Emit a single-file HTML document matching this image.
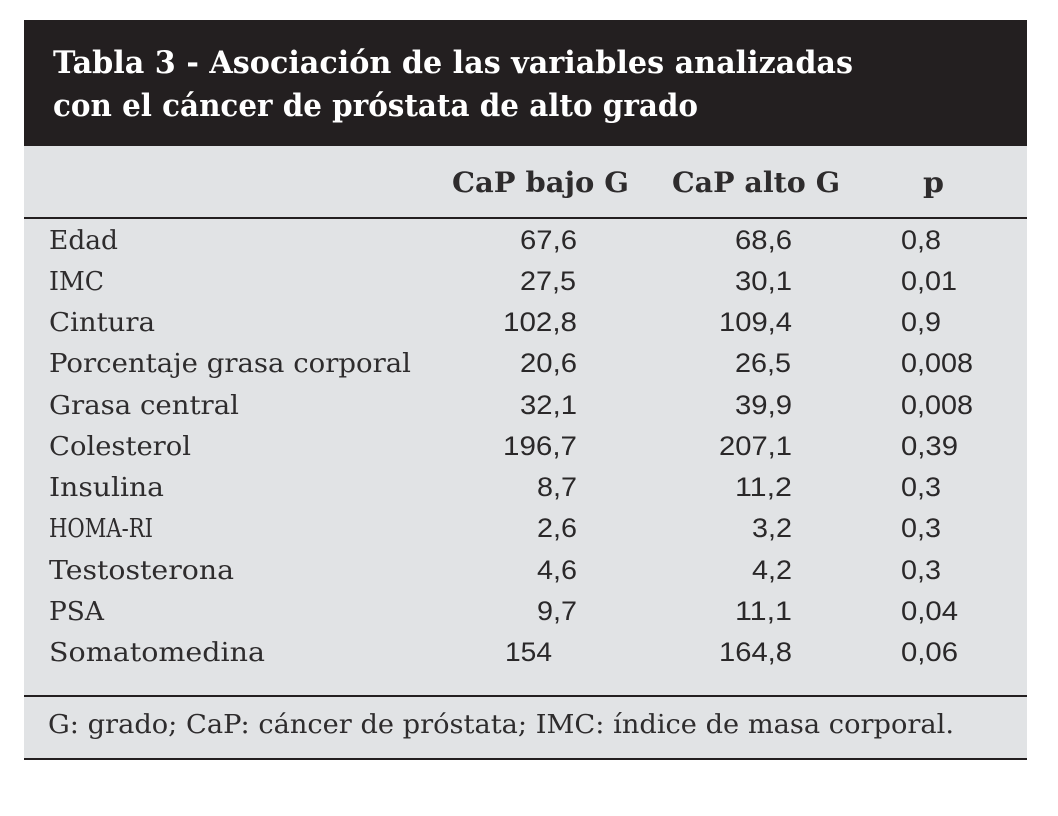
<!DOCTYPE html>
<html lang="es">
<head>
<meta charset="utf-8">
<title>Tabla 3</title>
<style>
html,body{margin:0;padding:0;background:#fff;width:1058px;height:816px;overflow:hidden}
svg{display:block}
text{font-family:"DejaVu Serif",serif;font-size:26px;fill:#2e2c2d}
.t{font-weight:bold;font-size:31px;fill:#fff}
.h{font-weight:bold;font-size:28px;fill:#2e2c2d}
.n{font-family:"Liberation Sans",sans-serif;font-size:26.5px;fill:#2a2829}
</style>
</head>
<body>
<svg xmlns="http://www.w3.org/2000/svg" width="1058" height="816" viewBox="0 0 1058 816">
<rect x="24" y="146" width="1003" height="613" fill="#e1e3e5"/>
<rect x="24" y="20" width="1003" height="126" fill="#231f20"/>
<rect x="24" y="217" width="1003" height="2" fill="#231f20"/>
<rect x="24" y="695" width="1003" height="2" fill="#231f20"/>
<rect x="24" y="758" width="1003" height="2" fill="#231f20"/>

<g transform="translate(0,-1)">
<text class="t" x="53" y="74" textLength="800" lengthAdjust="spacingAndGlyphs">Tabla 3 - Asociación de las variables analizadas</text>
<text class="t" x="53" y="117" textLength="645" lengthAdjust="spacingAndGlyphs">con el cáncer de próstata de alto grado</text>

<text class="h" x="452" y="193" textLength="177" lengthAdjust="spacingAndGlyphs">CaP bajo G</text>
<text class="h" x="672" y="193" textLength="168" lengthAdjust="spacingAndGlyphs">CaP alto G</text>
<text class="h" x="923" y="193" textLength="21" lengthAdjust="spacingAndGlyphs">p</text>

<text x="49" y="250" textLength="69" lengthAdjust="spacingAndGlyphs">Edad</text>
<text class="n" x="520" y="250" textLength="57" lengthAdjust="spacingAndGlyphs">67,6</text>
<text class="n" x="735" y="250" textLength="57" lengthAdjust="spacingAndGlyphs">68,6</text>
<text class="n" x="901" y="250" textLength="40" lengthAdjust="spacingAndGlyphs">0,8</text>

<text x="49" y="291" textLength="55" lengthAdjust="spacingAndGlyphs">IMC</text>
<text class="n" x="520" y="291" textLength="56" lengthAdjust="spacingAndGlyphs">27,5</text>
<text class="n" x="735" y="291" textLength="57" lengthAdjust="spacingAndGlyphs">30,1</text>
<text class="n" x="901" y="291" textLength="56" lengthAdjust="spacingAndGlyphs">0,01</text>

<text x="49" y="332" textLength="106" lengthAdjust="spacingAndGlyphs">Cintura</text>
<text class="n" x="503" y="332" textLength="74" lengthAdjust="spacingAndGlyphs">102,8</text>
<text class="n" x="719" y="332" textLength="73" lengthAdjust="spacingAndGlyphs">109,4</text>
<text class="n" x="901" y="332" textLength="40" lengthAdjust="spacingAndGlyphs">0,9</text>

<text x="49" y="373" textLength="362" lengthAdjust="spacingAndGlyphs">Porcentaje grasa corporal</text>
<text class="n" x="520" y="373" textLength="57" lengthAdjust="spacingAndGlyphs">20,6</text>
<text class="n" x="735" y="373" textLength="56" lengthAdjust="spacingAndGlyphs">26,5</text>
<text class="n" x="901" y="373" textLength="72" lengthAdjust="spacingAndGlyphs">0,008</text>

<text x="49" y="415" textLength="190" lengthAdjust="spacingAndGlyphs">Grasa central</text>
<text class="n" x="520" y="415" textLength="57" lengthAdjust="spacingAndGlyphs">32,1</text>
<text class="n" x="735" y="415" textLength="57" lengthAdjust="spacingAndGlyphs">39,9</text>
<text class="n" x="901" y="415" textLength="72" lengthAdjust="spacingAndGlyphs">0,008</text>

<text x="49" y="456" textLength="142" lengthAdjust="spacingAndGlyphs">Colesterol</text>
<text class="n" x="503" y="456" textLength="74" lengthAdjust="spacingAndGlyphs">196,7</text>
<text class="n" x="719" y="456" textLength="73" lengthAdjust="spacingAndGlyphs">207,1</text>
<text class="n" x="901" y="456" textLength="57" lengthAdjust="spacingAndGlyphs">0,39</text>

<text x="49" y="497" textLength="115" lengthAdjust="spacingAndGlyphs">Insulina</text>
<text class="n" x="537" y="497" textLength="40" lengthAdjust="spacingAndGlyphs">8,7</text>
<text class="n" x="735" y="497" textLength="57" lengthAdjust="spacingAndGlyphs">11,2</text>
<text class="n" x="901" y="497" textLength="40" lengthAdjust="spacingAndGlyphs">0,3</text>

<text x="49" y="538" textLength="104" lengthAdjust="spacingAndGlyphs">HOMA-RI</text>
<text class="n" x="537" y="538" textLength="40" lengthAdjust="spacingAndGlyphs">2,6</text>
<text class="n" x="752" y="538" textLength="40" lengthAdjust="spacingAndGlyphs">3,2</text>
<text class="n" x="901" y="538" textLength="40" lengthAdjust="spacingAndGlyphs">0,3</text>

<text x="49" y="580" textLength="185" lengthAdjust="spacingAndGlyphs">Testosterona</text>
<text class="n" x="537" y="580" textLength="40" lengthAdjust="spacingAndGlyphs">4,6</text>
<text class="n" x="752" y="580" textLength="40" lengthAdjust="spacingAndGlyphs">4,2</text>
<text class="n" x="901" y="580" textLength="40" lengthAdjust="spacingAndGlyphs">0,3</text>

<text x="49" y="621" textLength="55" lengthAdjust="spacingAndGlyphs">PSA</text>
<text class="n" x="537" y="621" textLength="40" lengthAdjust="spacingAndGlyphs">9,7</text>
<text class="n" x="735" y="621" textLength="57" lengthAdjust="spacingAndGlyphs">11,1</text>
<text class="n" x="901" y="621" textLength="57" lengthAdjust="spacingAndGlyphs">0,04</text>

<text x="49" y="662" textLength="216" lengthAdjust="spacingAndGlyphs">Somatomedina</text>
<text class="n" x="505" y="662" textLength="47" lengthAdjust="spacingAndGlyphs">154</text>
<text class="n" x="719" y="662" textLength="73" lengthAdjust="spacingAndGlyphs">164,8</text>
<text class="n" x="901" y="662" textLength="57" lengthAdjust="spacingAndGlyphs">0,06</text>

<text x="48" y="734" textLength="906" lengthAdjust="spacingAndGlyphs">G: grado; CaP: cáncer de próstata; IMC: índice de masa corporal.</text>
</g>
</svg>
</body>
</html>
